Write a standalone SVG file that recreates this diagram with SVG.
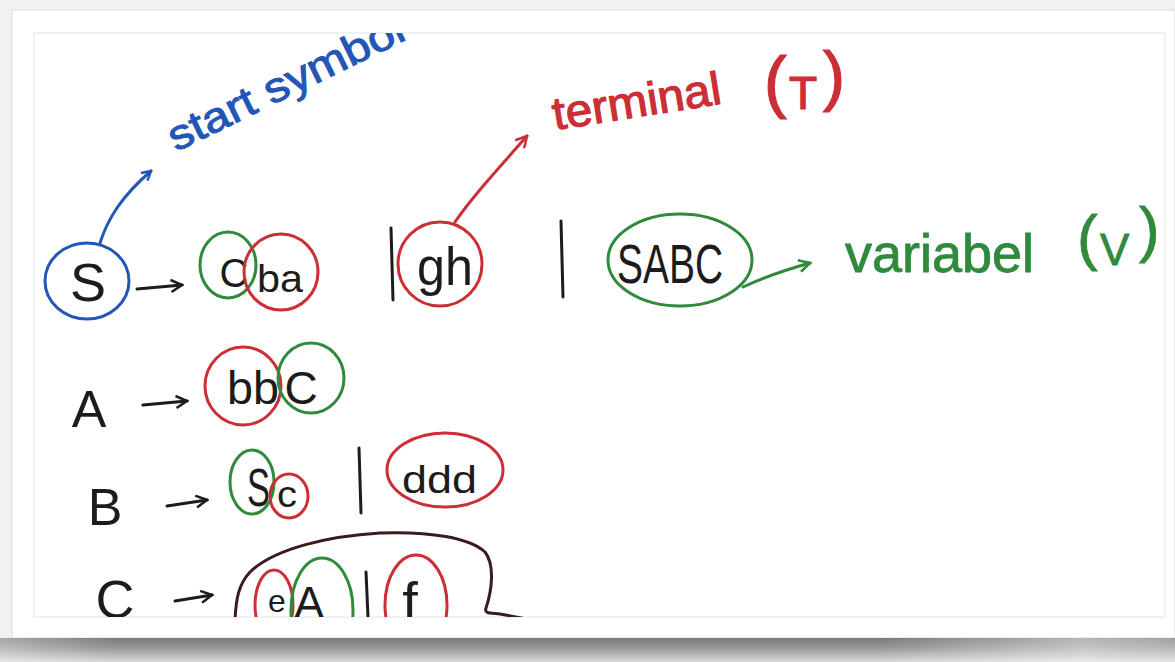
<svg xmlns="http://www.w3.org/2000/svg" width="1175" height="662" viewBox="0 0 1175 662">
  <defs>
    <style>
      .hand { font-family: "Liberation Sans", "DejaVu Sans", sans-serif; }
      .ink { fill: #1c1c1c; }
      .blue { fill: #2456b8; stroke: #2456b8; stroke-width: 1; }
      .red { fill: #cc2e36; stroke: #cc2e36; stroke-width: 1.2; }
      .green { fill: #2f8a3c; stroke: #2f8a3c; stroke-width: 0.8; }
      .ring { fill: none; stroke-width: 3; }
      .rb { stroke: #2456b8; }
      .rr { stroke: #cc2e36; }
      .rg { stroke: #2f8a3c; }
      .pen { fill: none; stroke-width: 3; stroke-linecap: round; stroke-linejoin: round; }
    </style>
    <clipPath id="photo">
      <rect x="34" y="33" width="1131" height="584"/>
    </clipPath>
    <linearGradient id="shadowV" x1="0" y1="0" x2="0" y2="1">
      <stop offset="0" stop-color="#7a7a7a"/>
      <stop offset="0.4" stop-color="#959595"/>
      <stop offset="1" stop-color="#d9d9d9"/>
    </linearGradient>
    <linearGradient id="shadowH" x1="0" y1="0" x2="1" y2="0">
      <stop offset="0" stop-color="#ffffff" stop-opacity="0.35"/>
      <stop offset="0.1" stop-color="#ffffff" stop-opacity="0"/>
      <stop offset="0.75" stop-color="#ffffff" stop-opacity="0"/>
      <stop offset="0.92" stop-color="#ffffff" stop-opacity="0.45"/>
      <stop offset="1" stop-color="#ffffff" stop-opacity="0.3"/>
    </linearGradient>
    <marker id="headB" viewBox="0 0 12 12" refX="10" refY="6" markerWidth="12" markerHeight="12" markerUnits="userSpaceOnUse" orient="auto">
      <path d="M1,1 L10,6 L1,11" fill="none" stroke="#2456b8" stroke-width="2.5"/>
    </marker>
    <marker id="headR" viewBox="0 0 14 14" refX="12" refY="7" markerWidth="14" markerHeight="14" markerUnits="userSpaceOnUse" orient="auto">
      <path d="M1,1 L12,7 L1,13" fill="none" stroke="#cc2e36" stroke-width="2.5"/>
    </marker>
    <marker id="headG" viewBox="0 0 14 14" refX="12" refY="7" markerWidth="14" markerHeight="14" markerUnits="userSpaceOnUse" orient="auto">
      <path d="M1,1 L12,7 L1,13" fill="none" stroke="#2f8a3c" stroke-width="2.5"/>
    </marker>
    <marker id="headK" viewBox="0 0 14 14" refX="12" refY="7" markerWidth="14" markerHeight="14" markerUnits="userSpaceOnUse" orient="auto">
      <path d="M1,1 L12,7 L1,13" fill="none" stroke="#1c1c1c" stroke-width="2.5"/>
    </marker>
  </defs>

  <!-- page frame -->
  <rect x="0" y="0" width="1175" height="662" fill="#f1f1f1"/>
  <rect x="12" y="10" width="1163" height="628" fill="#ffffff" stroke="#dcdcdc" stroke-width="1"/>
  <rect x="0" y="638" width="1175" height="24" fill="url(#shadowV)"/>
  <rect x="0" y="638" width="1175" height="24" fill="url(#shadowH)"/>
  <rect x="34" y="33" width="1131" height="584" fill="#ffffff" stroke="#e4e4e4" stroke-width="1"/>

  <g clip-path="url(#photo)">
    <!-- connectors -->
    <g id="connectors">
      <path class="pen" stroke="#2456b8" d="M100,243 C108,218 122,196 151,171" marker-end="url(#headB)"/>
      <path class="pen" stroke="#cc2e36" d="M455,222 C470,200 495,172 527,136" marker-end="url(#headR)"/>
      <path class="pen" stroke="#2f8a3c" d="M743,287 C762,278 785,270 810,263" marker-end="url(#headG)"/>
      <path class="pen" stroke="#1c1c1c" d="M137,289 L182,285" marker-end="url(#headK)"/>
      <path class="pen" stroke="#1c1c1c" d="M143,405 L187,401" marker-end="url(#headK)"/>
      <path class="pen" stroke="#1c1c1c" d="M167,506 L207,500" marker-end="url(#headK)"/>
      <path class="pen" stroke="#1c1c1c" d="M175,601 L212,595" marker-end="url(#headK)"/>
    </g>

    <!-- labels -->
    <g id="label-start">
      <text class="hand blue" x="176" y="152" font-size="42" textLength="258" lengthAdjust="spacingAndGlyphs" transform="rotate(-26 176 152)">start symbol</text>
    </g>
    <g id="label-terminal">
      <text class="hand red" x="555" y="130" font-size="46" textLength="170" lengthAdjust="spacingAndGlyphs" transform="rotate(-9 555 130)">terminal</text>
      <text class="hand red" font-size="68"><tspan x="764" y="105">(</tspan><tspan x="789" y="109" font-size="46">T</tspan><tspan x="823" y="98" font-size="66">)</tspan></text>
    </g>
    <g id="label-variabel">
      <text class="hand green" font-size="54"><tspan x="845" y="272">variabel</tspan><tspan x="1077" y="258" font-size="62">(</tspan><tspan x="1100" y="265" font-size="44">V</tspan><tspan x="1139" y="250" font-size="62">)</tspan></text>
    </g>

    <!-- row S -->
    <g id="node-S">
      <ellipse class="ring rb" cx="87" cy="281" rx="42" ry="38"/>
      <text class="hand ink" x="88" y="301" font-size="54" text-anchor="middle">S</text>
    </g>
    <g id="node-C1">
      <ellipse class="ring rg" cx="228" cy="265" rx="28" ry="33"/>
      <text class="hand ink" x="234" y="287" font-size="40" text-anchor="middle">C</text>
    </g>
    <g id="node-ba">
      <ellipse class="ring rr" cx="281" cy="272" rx="37" ry="38"/>
      <text class="hand ink" x="257" y="292" font-size="38" textLength="46" lengthAdjust="spacingAndGlyphs">ba</text>
    </g>
    <g id="sep1"><path class="pen" stroke="#1c1c1c" d="M391,228 L393,300"/></g>
    <g id="node-gh">
      <ellipse class="ring rr" cx="440" cy="264" rx="42" ry="42"/>
      <text class="hand ink" x="417" y="285" font-size="54" textLength="56" lengthAdjust="spacingAndGlyphs">gh</text>
    </g>
    <g id="sep2"><path class="pen" stroke="#1c1c1c" d="M561,221 L563,297"/></g>
    <g id="node-SABC">
      <ellipse class="ring rg" cx="680" cy="260" rx="72" ry="46"/>
      <text class="hand ink" x="617" y="283" font-size="55" textLength="106" lengthAdjust="spacingAndGlyphs">SABC</text>
    </g>

    <!-- row A -->
    <g id="rule-A">
      <text class="hand ink" x="89" y="427" font-size="52" text-anchor="middle">A</text>
    </g>
    <g id="node-bb">
      <ellipse class="ring rr" cx="243" cy="386" rx="38" ry="39"/>
      <text class="hand ink" x="227" y="404" font-size="46" textLength="52" lengthAdjust="spacingAndGlyphs">bb</text>
    </g>
    <g id="node-C2">
      <ellipse class="ring rg" cx="311" cy="378" rx="33" ry="35"/>
      <text class="hand ink" x="301" y="404" font-size="46" text-anchor="middle">C</text>
    </g>

    <!-- row B -->
    <g id="rule-B">
      <text class="hand ink" x="105" y="525" font-size="52" text-anchor="middle">B</text>
    </g>
    <g id="node-S2">
      <ellipse class="ring rg" cx="252" cy="482" rx="22" ry="32"/>
      <text class="hand ink" x="247" y="506" font-size="54" textLength="23" lengthAdjust="spacingAndGlyphs">S</text>
    </g>
    <g id="node-c">
      <ellipse class="ring rr" cx="289" cy="496" rx="19" ry="22"/>
      <text class="hand ink" x="277" y="507" font-size="36" textLength="20" lengthAdjust="spacingAndGlyphs">c</text>
    </g>
    <g id="sep3"><path class="pen" stroke="#1c1c1c" d="M359,448 L361,513"/></g>
    <g id="node-ddd">
      <ellipse class="ring rr" cx="445" cy="470" rx="58" ry="37"/>
      <text class="hand ink" x="402" y="493" font-size="38" textLength="75" lengthAdjust="spacingAndGlyphs">ddd</text>
    </g>

    <!-- row C -->
    <g id="rule-C">
      <text class="hand ink" x="115" y="618" font-size="54" text-anchor="middle">C</text>
    </g>
    <g id="group-C">
      <path class="pen" stroke="#3b1c1c" d="M235,620 C236,600 238,585 250,572 C275,548 330,536 380,533 C430,531 470,538 485,552 C495,565 492,590 486,608 C484,614 490,613 500,614 L532,620"/>
    </g>
    <g id="node-e">
      <ellipse class="ring rr" cx="274" cy="605" rx="19" ry="35"/>
      <text class="hand ink" x="277" y="612" font-size="32" text-anchor="middle">e</text>
    </g>
    <g id="node-A2">
      <ellipse class="ring rg" cx="322" cy="610" rx="31" ry="52"/>
      <text class="hand ink" x="309" y="619" font-size="46" text-anchor="middle">A</text>
    </g>
    <g id="sep4"><path class="pen" stroke="#1c1c1c" d="M366,572 L368,617"/></g>
    <g id="node-f">
      <ellipse class="ring rr" cx="416" cy="605" rx="31" ry="50"/>
      <text class="hand ink" x="410" y="621" font-size="56" text-anchor="middle">f</text>
    </g>
  </g>
</svg>
